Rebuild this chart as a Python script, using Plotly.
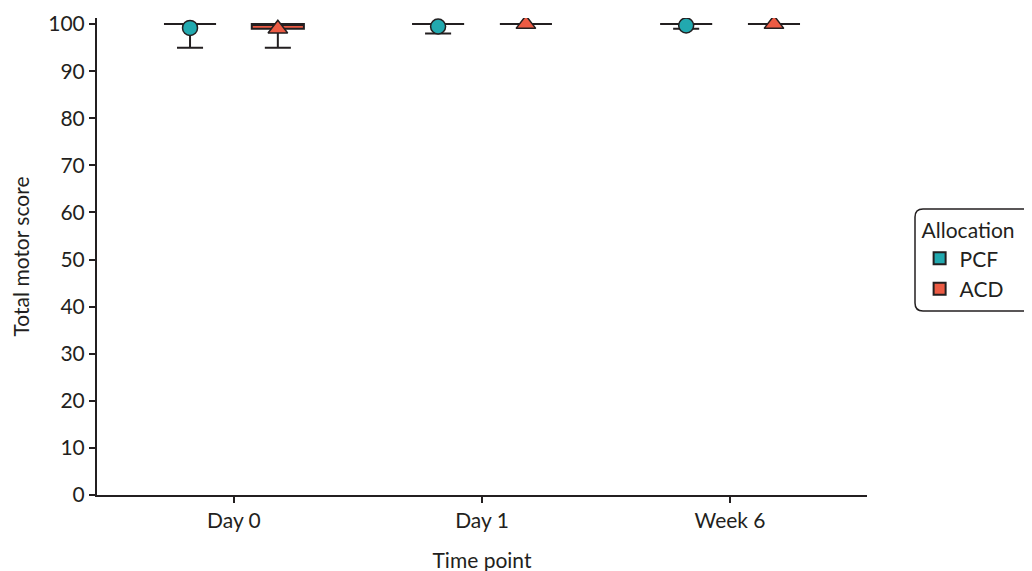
import plotly.graph_objects as go

categories = ["Day 0", "Day 1", "Week 6"]
groups = ["PCF", "ACD"]

pcf_q1 = [100, 100, 100]
pcf_median = [100, 100, 100]
pcf_q3 = [100, 100, 100]
pcf_lower = [95, 98, 99]
pcf_upper = [100, 100, 100]
pcf_mean = [99.2, 99.5, 99.7]

acd_q1 = [99, 100, 100]
acd_median = [100, 100, 100]
acd_q3 = [100, 100, 100]
acd_lower = [95, 100, 100]
acd_upper = [100, 100, 100]
acd_mean = [99.0, 100, 100]

y_ticks = [0, 10, 20, 30, 40, 50, 60, 70, 80, 90, 100]

colors = {"PCF": "#22A9AF", "ACD": "#EC5B44"}
symbols = {"PCF": "circle", "ACD": "triangle-up"}
dark = "#231F20"
offset = 0.177
box_w = 0.21
fs = 21

data = {
    "PCF": (pcf_q1, pcf_median, pcf_q3, pcf_lower, pcf_upper, pcf_mean, -offset),
    "ACD": (acd_q1, acd_median, acd_q3, acd_lower, acd_upper, acd_mean, offset),
}

fig = go.Figure()
for g in groups:
    q1, med, q3, lo, hi, mean, off = data[g]
    xs = [i + off for i in range(len(categories))]
    fig.add_trace(go.Box(
        x=xs, q1=q1, median=med, q3=q3, lowerfence=lo, upperfence=hi,
        width=box_w, whiskerwidth=0.5,
        fillcolor=colors[g], line=dict(color=dark, width=2),
        showlegend=False, hoverinfo="skip", name=g,
    ))
    fig.add_trace(go.Scatter(
        x=xs, y=mean, mode="markers",
        marker=dict(symbol=symbols[g], size=15 if g == "PCF" else 17,
                    color=colors[g], line=dict(color=dark, width=1.5)),
        showlegend=False, name=g,
    ))

for g in groups:
    fig.add_trace(go.Scatter(
        x=[None], y=[None], mode="markers", name=g,
        marker=dict(symbol="square", size=13, color=colors[g],
                    line=dict(color=dark, width=1.5)),
    ))

# plot area in page pixels: x 97..867, y 18..495 (page has 8px body margin)
px0, px1, py0, py1 = 97, 867, 18, 495
def pxx(p):
    return (p - px0) / (px1 - px0)
def pxy(p):
    return (py1 - p) / (py1 - py0)

# rounded legend frame
lx0, lx1, ly0, ly1, r = 915, 1045, 209, 311, 8
path = (
    f"M {pxx(lx0 + r)} {pxy(ly0)} L {pxx(lx1 - r)} {pxy(ly0)} "
    f"Q {pxx(lx1)} {pxy(ly0)} {pxx(lx1)} {pxy(ly0 + r)} "
    f"L {pxx(lx1)} {pxy(ly1 - r)} Q {pxx(lx1)} {pxy(ly1)} {pxx(lx1 - r)} {pxy(ly1)} "
    f"L {pxx(lx0 + r)} {pxy(ly1)} Q {pxx(lx0)} {pxy(ly1)} {pxx(lx0)} {pxy(ly1 - r)} "
    f"L {pxx(lx0)} {pxy(ly0 + r)} Q {pxx(lx0)} {pxy(ly0)} {pxx(lx0 + r)} {pxy(ly0)} Z"
)

fig.update_layout(
    width=1032, height=571,
    margin=dict(l=89, r=173, t=10, b=84, autoexpand=False),
    plot_bgcolor="white", paper_bgcolor="white",
    font=dict(family="Lato", size=fs, color=dark),
    shapes=[dict(type="path", path=path, xref="paper", yref="paper",
                 line=dict(color=dark, width=1.5), layer="above")],
    legend=dict(
        title=dict(text="Allocation", font=dict(size=fs)),
        x=pxx(lx0) + 0.006, xanchor="left", y=pxy(ly0) - 0.004, yanchor="top",
        borderwidth=0, bgcolor="rgba(0,0,0,0)",
        font=dict(size=fs), tracegroupgap=0, itemsizing="constant",
        itemwidth=30,
    ),
    xaxis=dict(
        range=[-0.552, 2.552], tickmode="array",
        tickvals=list(range(len(categories))), ticktext=categories,
        tickfont=dict(size=fs),
        showline=True, linecolor=dark, linewidth=2, ticks="outside",
        tickcolor=dark, ticklen=6, tickwidth=1.5, showgrid=False, zeroline=False,
        title=dict(text="Time point", standoff=22, font=dict(size=fs)),
    ),
    yaxis=dict(
        range=[0, 101.3], tickmode="array", tickvals=y_ticks,
        tickfont=dict(size=fs),
        showline=True, linecolor=dark, linewidth=2, ticks="outside",
        tickcolor=dark, ticklen=6, tickwidth=1.5, showgrid=False, zeroline=False,
        title=dict(text="Total motor score", standoff=18, font=dict(size=fs)),
    ),
)

fig.write_html("out.html")
